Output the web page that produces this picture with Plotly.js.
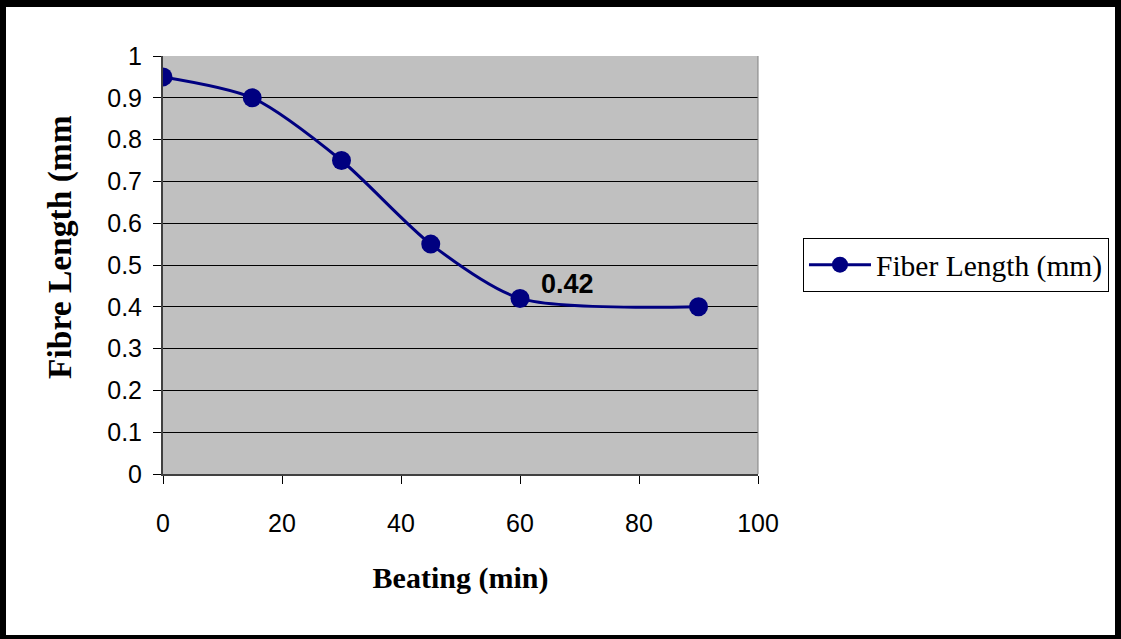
<!DOCTYPE html>
<html>
<head>
<meta charset="utf-8">
<script src="https://cdn.plot.ly/plotly-3.0.1.min.js"></script>
<style>
html,body{margin:0;padding:0;background:#fff;}
#wrap{position:relative;width:1121px;height:639px;}
#chart{width:1121px;height:639px;}
#frame{position:absolute;left:0;top:0;width:1121px;height:639px;box-sizing:border-box;border-style:solid;border-color:#000;border-width:7px 6px 4px 6px;pointer-events:none;}
</style>
</head>
<body>
<div id="wrap"><div id="chart"></div><div id="frame"></div></div>
<script>
const beatingMin = [0, 15, 30, 45, 60, 90];
const fiberLength = [0.95, 0.90, 0.75, 0.55, 0.42, 0.40];
const seriesName = "Fiber Length (mm)";
const labelValue = "0.42";
const xTitle = "Beating (min)";
const yTitle = "Fibre Length (mm";

const trace = {
  x: beatingMin, y: fiberLength, type: 'scatter', mode: 'lines+markers',
  name: seriesName,
  line: {color: '#000080', width: 3, shape: 'spline', smoothing: 0.75},
  marker: {color: '#000080', size: 19}
};

const layout = {
  width: 1121, height: 639,
  margin: {l: 163, r: 363, t: 56, b: 165},
  paper_bgcolor: '#ffffff', plot_bgcolor: '#c0c0c0',
  showlegend: true,
  legend: {x: 1.0756, xanchor: 'left', y: 0.5, yanchor: 'middle',
    bordercolor: '#000', borderwidth: 1, bgcolor: '#fff', itemwidth: 62,
    font: {family: 'Liberation Serif, Times New Roman, serif', size: 29.5, color: '#000'}},
  xaxis: {range: [0, 100], dtick: 20, tick0: 0, showgrid: false, zeroline: false,
    showline: true, linecolor: '#404040', linewidth: 2, mirror: false,
    ticks: 'outside', ticklen: 8, tickcolor: '#000', ticklabelstandoff: 18,
    tickfont: {family: 'Liberation Sans, Arial, sans-serif', size: 25, color: '#000'},
    title: {text: xTitle, standoff: 31,
      font: {family: 'Liberation Serif, Times New Roman, serif', size: 30, color: '#000', weight: 'bold'}}},
  yaxis: {range: [0, 1], dtick: 0.1, tick0: 0, showgrid: true, gridcolor: '#000', gridwidth: 1,
    zeroline: false, showline: true, linecolor: '#404040', linewidth: 2,
    ticks: 'outside', ticklen: 8, tickcolor: '#000', ticklabelstandoff: 6,
    tickfont: {family: 'Liberation Sans, Arial, sans-serif', size: 25, color: '#000'}},
  shapes: [
    {type: 'line', xref: 'paper', yref: 'paper', x0: 1, x1: 1, y0: 0, y1: 1, line: {color: '#808080', width: 1}}
  ],
  annotations: [
    {x: beatingMin[4], y: fiberLength[4], xref: 'x', yref: 'y', text: '<b>' + labelValue + '</b>',
     showarrow: false, xshift: 47, yshift: 14,
     font: {family: 'Liberation Sans, Arial, sans-serif', size: 27, color: '#000'}},
    {x: 0, y: 0.543, xref: 'paper', yref: 'paper', text: '<b>' + yTitle + '</b>', textangle: -90,
     showarrow: false, xanchor: 'center', yanchor: 'middle', xshift: -103,
     font: {family: 'Liberation Serif, Times New Roman, serif', size: 33.5, color: '#000'}}
  ]
};

Plotly.newPlot('chart', [trace], layout, {displayModeBar: false, staticPlot: true});
</script>
</body>
</html>
